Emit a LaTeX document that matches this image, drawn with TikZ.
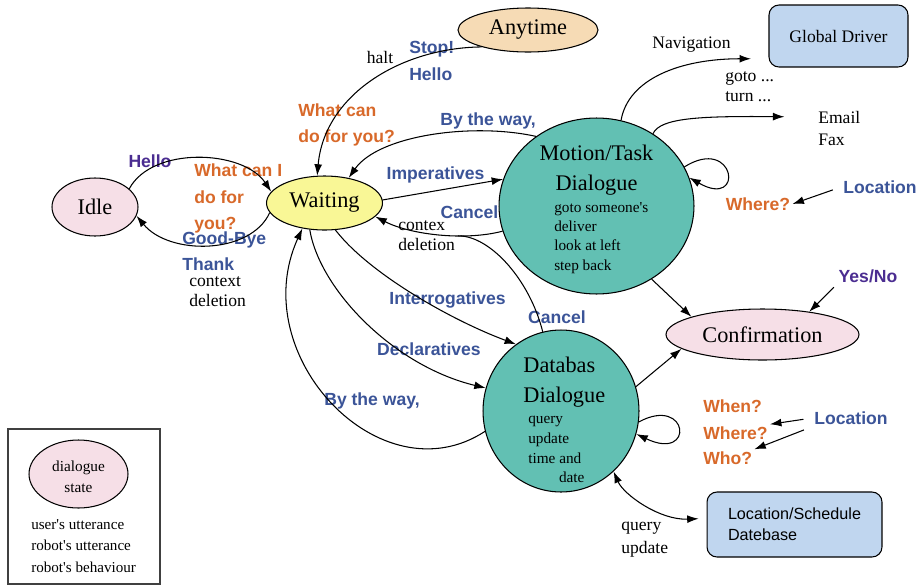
\documentclass[tikz,border=0pt]{standalone}
\usepackage{fontspec}
\setmainfont{Liberation Serif}
\setsansfont{Liberation Sans}
\usetikzlibrary{shapes.geometric,arrows.meta}
\definecolor{userblue}{HTML}{3B5498}
\definecolor{greetpurple}{HTML}{4B2D91}
\definecolor{robotorange}{HTML}{D8692A}
\definecolor{dlgteal}{HTML}{62C0B3}
\definecolor{statepink}{HTML}{F6DFE7}
\definecolor{waityellow}{HTML}{F9F796}
\definecolor{anytan}{HTML}{F6DBB5}
\definecolor{drvblue}{HTML}{C0D6EF}

\begin{document}
\begin{tikzpicture}[x=0.02cm, y=-0.02cm, line width=0.6pt,
  state/.style = {draw, ellipse, inner sep=0pt, font=\fontsize{12.7}{15}\selectfont},
  dlg/.style = {draw, ellipse, inner sep=0pt, fill=dlgteal},
  drv/.style = {draw, rectangle, rounded corners=0.2cm, fill=drvblue, inner sep=0pt},
  user/.style = {text=userblue, font=\sffamily\bfseries\fontsize{10}{15}\selectfont, inner sep=1pt, align=left},
  greet/.style = {user, text=greetpurple},
  robot/.style = {user, text=robotorange},
  act/.style = {font=\fontsize{10}{11.3}\selectfont, inner sep=1pt, align=left},
  arr/.style = {-{Latex[length=6.5pt,width=4.5pt]}}]
  \useasboundingbox (0,0) rectangle (919,585);

  % states
  \node[state, fill=statepink, minimum width=1.72cm, minimum height=1.16cm] (idle) at (95,207) {Idle};
  \node[state, fill=waityellow, minimum width=2.32cm, minimum height=1.08cm] (wait) at (324.5,203) {Waiting};
  \node[state, fill=anytan, minimum width=2.8cm, minimum height=0.88cm] (any) at (528,30) {Anytime};
  \node[dlg, minimum width=3.9cm, minimum height=3.52cm] (mot) at (596.5,206) {};
  \node[dlg, minimum width=3.12cm, minimum height=3.24cm] (db) at (561,411) {};
  \node[state, fill=statepink, minimum width=3.86cm, minimum height=1.02cm] (conf) at (762.5,334.5) {Confirmation};
  \node[drv, minimum width=2.78cm, minimum height=1.24cm, font=\fontsize{10}{12}\selectfont] (gd) at (838.5,36) {Global Driver};
  \node[drv, minimum width=3.5cm, minimum height=1.3cm, align=left, font=\sffamily\fontsize{9.2}{12}\selectfont] (ls) at (794.5,524.5) {Location/Schedule\\Datebase};

  % inside the dialogue circles
  \node[font=\fontsize{12.7}{17}\selectfont, align=center] (mottitle) at (596.5,170) {Motion/Task\\Dialogue};
  \node[act, font=\fontsize{8.7}{11}\selectfont, anchor=north west] (motacts) at (552,200) {goto someone\textquotesingle s\\deliver\\look at left\\step back};
  \node[font=\fontsize{12.7}{17}\selectfont, align=left, anchor=west] (dbtitle) at (517,382) {Databas\\Dialogue};
  \node[act, font=\fontsize{8.7}{11.2}\selectfont, anchor=north west] (dbacts) at (526,414) {query\\update\\time and\\\hspace*{17.5pt}date};

  % legend
  \node[draw=black!75, line width=0.9pt, minimum width=3.04cm, minimum height=3.1cm, inner sep=0pt] (legend) at (84,506.5) {};
  \node[state, fill=statepink, minimum width=1.98cm, minimum height=1.36cm] (key) at (78.5,474) {};
  \node[font=\fontsize{8.7}{12}\selectfont, align=center] (keylabel) at (78.5,477) {dialogue\\state};
  \node[act, font=\fontsize{8.6}{12.2}\selectfont, anchor=north west] (keytext) at (29,517) {user\textquotesingle s utterance\\robot\textquotesingle s utterance\\robot\textquotesingle s behaviour};

  % utterances and behaviours
  \node[act] (halt) at (380,57) {halt};
  \node[user, anchor=west] (stop) at (407,61) {Stop!\\Hello};
  \node[robot, anchor=west] (help) at (296,125) {What can\\do for you?};
  \node[greet] (hello) at (150,161) {Hello};
  \node[robot, anchor=west] (offer) at (192,198.5) {What can I\\do for\\you?};
  \node[user, anchor=west] (bye) at (180,251.5) {Good-Bye\\Thank};
  \node[act, anchor=west] (ctxdel) at (187,292) {context\\deletion};
  \node[user] (btw1) at (488,121) {By the way,};
  \node[user] (imp) at (435.5,175) {Imperatives};
  \node[user] (cancel1) at (469.5,212) {Cancel};
  \node[act, anchor=west] (ctxdel2) at (396,235.5) {contex\\deletion};
  \node[user] (interr) at (447.5,300) {Interrogatives};
  \node[user] (decl) at (429,349) {Declaratives};
  \node[user] (btw2) at (372,401) {By the way,};
  \node[user] (cancel2) at (557,317) {Cancel};
  \node[act] (nav) at (691.5,45) {Navigation};
  \node[act, anchor=west] (goto) at (723,87) {goto ...\\turn ...};
  \node[act, anchor=west] (email) at (816,117) {Email};
  \node[act, anchor=west] (fax) at (816,140) {Fax};
  \node[user] (loc1) at (880,187) {Location};
  \node[robot] (where1) at (758,204) {Where?};
  \node[greet] (yes) at (868,276) {Yes/No};
  \node[robot, anchor=west] (when) at (701,406) {When?};
  \node[robot, anchor=west] (where2) at (701,433) {Where?};
  \node[robot, anchor=west] (who) at (701,458) {Who?};
  \node[user] (loc2) at (851,418) {Location};
  \node[act, font=\fontsize{10}{13}\selectfont, anchor=west] (qu) at (619,539.5) {query\\update};

  % transitions
  \draw[arr] (idle.28) .. controls +(23,-43) and +(-28,-42) .. (wait.168);
  \draw[arr] (wait.190) .. controls +(-19,42) and +(33,40) .. (idle.-12);
  \draw[arr] (any.-160) .. controls +(-82,1) and +(7,-80) .. (wait.105);
  \draw[arr] (mot.131) .. controls +(-63,-14) and +(30,-43) .. (wait.46);
  \draw[arr] (wait.3) -- (mot.164);
  \draw[arr] (mot.195) .. controls +(-38,10) and +(35,18) .. coordinate[pos=0.35] (merge) (wait.-15);
  \draw (db.103) .. controls +(-13,-52) and +(32,0) .. (merge);
  \draw[arr] (wait.-68) .. controls +(35,45) and +(-62,-23) .. (db.124);
  \draw[arr] (wait.-119) .. controls +(10,60) and +(-92,-22) .. (db.163);
  \draw[arr] (db.195) .. controls +(-104,68) and +(-58,127) .. (wait.-131);
  \draw[arr, shorten >=10pt] (mot.74) .. controls +(7,-41) and +(-89,0) .. (gd.198);
  \draw[arr, shorten >=18pt] (mot.52) .. controls +(7,-16) and +(-115,-1) .. (email.west);
  \draw[arr] (mot.24) .. controls +(51,-32) and +(56,32) .. (mot.17);
  \draw[arr] (mot.-53) -- (conf.166);
  \draw[arr] (db.18) -- (conf.190);
  \draw[arr] (db.-8) .. controls +(50,-27) and +(59,28) .. (db.-17);
  \draw[arr, shorten <=5pt] (loc1.west) -- (where1.east);
  \draw[arr, shorten <=2pt] (yes.south west) -- (conf.26);
  \draw[arr, shorten <=5pt] (loc2.west) -- (where2.north east);
  \draw[arr, shorten <=5pt] (loc2.south west) -- (who.north east);
  \draw[{Latex[length=6.5pt,width=4.5pt]}-{Latex[length=6.5pt,width=4.5pt]}, shorten >=4.5pt] (db.-49) .. controls +(10,23) and +(-47,2) .. (ls.176);
\end{tikzpicture}
\end{document}
